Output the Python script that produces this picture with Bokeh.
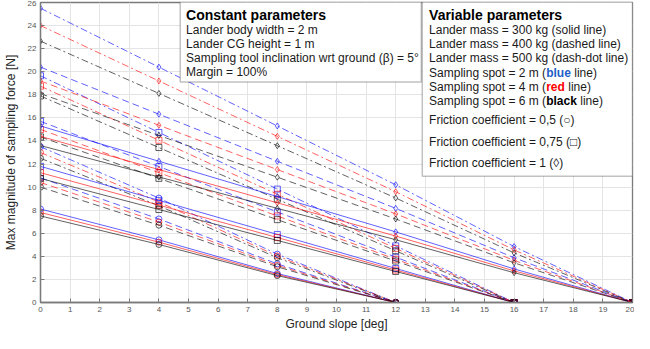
from bokeh.plotting import figure
from bokeh.models import FixedTicker, Range1d, Label, BoxAnnotation
from bokeh.embed import file_html
from bokeh.resources import INLINE

# ---------------- data ----------------
slope = [0, 4, 8, 12, 16, 20]

# friction 0.5 (circle)
m300_s2_mu050 = [8.1, 5.43, 2.51, 0, 0, 0]
m300_s4_mu050 = [7.8, 5.23, 2.42, 0, 0, 0]
m300_s6_mu050 = [7.5, 5.03, 2.33, 0, 0, 0]
m400_s2_mu050 = [10.8, 7.24, 3.35, 0, 0, 0]
m400_s4_mu050 = [10.4, 6.97, 3.22, 0, 0, 0]
m400_s6_mu050 = [10.0, 6.70, 3.10, 0, 0, 0]
m500_s2_mu050 = [13.5, 9.05, 4.19, 0, 0, 0]
m500_s4_mu050 = [13.0, 8.71, 4.03, 0, 0, 0]
m500_s6_mu050 = [12.5, 8.38, 3.88, 0, 0, 0]
# friction 0.75 (square)
m300_s2_mu075 = [11.8, 8.85, 5.90, 2.95, 0, 0]
m300_s4_mu075 = [11.25, 8.44, 5.63, 2.81, 0, 0]
m300_s6_mu075 = [10.75, 8.06, 5.38, 2.69, 0, 0]
m400_s2_mu075 = [15.7, 11.78, 7.85, 3.93, 0, 0]
m400_s4_mu075 = [15.0, 11.25, 7.50, 3.75, 0, 0]
m400_s6_mu075 = [14.35, 10.76, 7.18, 3.59, 0, 0]
m500_s2_mu075 = [19.65, 14.74, 9.83, 4.91, 0, 0]
m500_s4_mu075 = [18.75, 14.06, 9.38, 4.69, 0, 0]
m500_s6_mu075 = [17.9, 13.43, 8.95, 4.48, 0, 0]
# friction 1 (diamond)
m300_s2_mu100 = [15.3, 12.24, 9.18, 6.12, 2.91, 0]
m300_s4_mu100 = [14.4, 11.52, 8.64, 5.76, 2.74, 0]
m300_s6_mu100 = [13.6, 10.88, 8.16, 5.44, 2.58, 0]
m400_s2_mu100 = [20.4, 16.32, 12.24, 8.16, 3.88, 0]
m400_s4_mu100 = [19.2, 15.36, 11.52, 7.68, 3.65, 0]
m400_s6_mu100 = [18.1, 14.48, 10.86, 7.24, 3.44, 0]
m500_s2_mu100 = [25.5, 20.4, 15.3, 10.2, 4.85, 0]
m500_s4_mu100 = [24.0, 19.2, 14.4, 9.6, 4.56, 0]
m500_s6_mu100 = [22.65, 18.12, 13.59, 9.06, 4.30, 0]

x_ticks = list(range(0, 21))
y_ticks = list(range(0, 27, 2))

# ---------------- styles ----------------
spot_color = {"s2": "#0000ff", "s4": "#ff0000", "s6": "#000000"}
mass_dash = {"m300": "solid", "m400": "7 4", "m500": "7 3 2 3"}
mu_marker = {"mu050": "circle", "mu075": "square", "mu100": "diamond"}

series = [
    ("m300", "s2", "mu050", m300_s2_mu050), ("m300", "s4", "mu050", m300_s4_mu050), ("m300", "s6", "mu050", m300_s6_mu050),
    ("m400", "s2", "mu050", m400_s2_mu050), ("m400", "s4", "mu050", m400_s4_mu050), ("m400", "s6", "mu050", m400_s6_mu050),
    ("m500", "s2", "mu050", m500_s2_mu050), ("m500", "s4", "mu050", m500_s4_mu050), ("m500", "s6", "mu050", m500_s6_mu050),
    ("m300", "s2", "mu075", m300_s2_mu075), ("m300", "s4", "mu075", m300_s4_mu075), ("m300", "s6", "mu075", m300_s6_mu075),
    ("m400", "s2", "mu075", m400_s2_mu075), ("m400", "s4", "mu075", m400_s4_mu075), ("m400", "s6", "mu075", m400_s6_mu075),
    ("m500", "s2", "mu075", m500_s2_mu075), ("m500", "s4", "mu075", m500_s4_mu075), ("m500", "s6", "mu075", m500_s6_mu075),
    ("m300", "s2", "mu100", m300_s2_mu100), ("m300", "s4", "mu100", m300_s4_mu100), ("m300", "s6", "mu100", m300_s6_mu100),
    ("m400", "s2", "mu100", m400_s2_mu100), ("m400", "s4", "mu100", m400_s4_mu100), ("m400", "s6", "mu100", m400_s6_mu100),
    ("m500", "s2", "mu100", m500_s2_mu100), ("m500", "s4", "mu100", m500_s4_mu100), ("m500", "s6", "mu100", m500_s6_mu100),
]

FONT = "Liberation Sans"
AXIS_GRAY = "#7a7a7a"

p = figure(width=634, height=333, x_range=Range1d(0, 20), y_range=Range1d(0, 26),
           output_backend="svg", toolbar_location=None,
           min_border_left=30, min_border_right=2, min_border_top=2, min_border_bottom=27)
p.background_fill_color = "white"
p.border_fill_color = "white"
p.outline_line_color = AXIS_GRAY
p.outline_line_width = 1.3

for ax in (p.xaxis[0], p.yaxis[0]):
    ax.major_tick_in = 4
    ax.major_tick_out = 0
    ax.minor_tick_line_color = None
    ax.axis_line_color = AXIS_GRAY
    ax.axis_line_width = 1.3
    ax.major_tick_line_color = AXIS_GRAY
    ax.major_label_text_font = FONT
    ax.major_label_text_font_size = "8px"
    ax.major_label_text_color = "#555555"
    ax.axis_label_text_font = FONT
    ax.axis_label_text_font_size = "12px"
    ax.axis_label_text_font_style = "normal"
    ax.axis_label_text_color = "#262626"

p.xaxis.ticker = FixedTicker(ticks=x_ticks)
p.yaxis.ticker = FixedTicker(ticks=y_ticks)
p.xaxis.axis_label = "Ground slope [deg]"
p.yaxis.axis_label = "Max magnitude of sampling force [N]"
p.xaxis.major_label_standoff = 4
p.yaxis.major_label_standoff = 4
p.xaxis.axis_label_standoff = 2
p.yaxis.axis_label_standoff = 7

p.xgrid.ticker = FixedTicker(ticks=x_ticks)
p.ygrid.ticker = FixedTicker(ticks=y_ticks)
p.grid.grid_line_color = "#e4e4e4"
p.grid.grid_line_width = 1

for mass, spot, mu, vals in series:
    c = spot_color[spot]
    p.line(slope, vals, line_color=c, line_dash=mass_dash[mass], line_width=1, line_alpha=0.62)
    p.scatter(slope, vals, marker=mu_marker[mu], size=6, fill_color=None,
              line_color=c, line_alpha=0.62, line_width=1)

# ---------------- parameter boxes ----------------
def xd(px):
    return (px - 37.7) / 30.57

def yd(py):
    return (315.7 - py) / 11.76

p.add_layout(BoxAnnotation(left=xd(182), right=xd(431), top=yd(8), bottom=yd(91),
                           fill_color="white", fill_alpha=1.0, line_color="#333333",
                           line_width=1.5, level="annotation"))
p.add_layout(BoxAnnotation(left=xd(432), right=20, top=yd(8), bottom=yd(187),
                           fill_color="white", fill_alpha=1.0, line_color="#333333",
                           line_width=1.5, level="annotation"))

def lab(px, py, text, size="12px", style="normal", color="#1a1a1a", dx=0):
    p.add_layout(Label(x=xd(px), y=yd(py), text=text, x_offset=dx, text_font=FONT,
                       text_font_size=size, text_font_style=style, text_color=color,
                       text_baseline="middle", text_align="left"))

const_lines = ["Lander body width = 2 m", "Lander CG height = 1 m",
               "Sampling tool inclination wrt ground (\u03b2) = 5\u00b0", "Margin = 100%"]
lab(188, 22.5, "Constant parameters", size="14px", style="bold", color="#000000")
for i, t in enumerate(const_lines):
    lab(188, 38 + 14.4 * i, t)

lab(439, 22.5, "Variable parameters", size="14px", style="bold", color="#000000")
mass_lines = ["Lander mass = 300 kg (solid line)", "Lander mass = 400 kg (dashed line)",
              "Lander mass = 500 kg (dash-dot line)"]
for i, t in enumerate(mass_lines):
    lab(439, 38 + 14.4 * i, t)

spot_lines = [("Sampling spot = 2 m (", "blue", "#1f5fc8", 24.7),
              ("Sampling spot = 4 m (", "red", "#ff0000", 18.7),
              ("Sampling spot = 6 m (", "black", "#000000", 30.7)]
for i, (a, w, c, wid) in enumerate(spot_lines):
    py = 81.5 + 14.4 * i
    lab(439, py, a)
    lab(439, py, w, style="bold", color=c, dx=117.1)
    lab(439, py, "line)", dx=117.1 + wid + 3.4)

fric_lines = ["Friction coefficient = 0,5 (\u25cb)", "Friction coefficient = 0,75 (\u25a1)",
              "Friction coefficient = 1 (\u25ca)"]
for i, t in enumerate(fric_lines):
    lab(439, 130 + 22 * i, t)

open("out.html", "w").write(file_html(p, INLINE))
